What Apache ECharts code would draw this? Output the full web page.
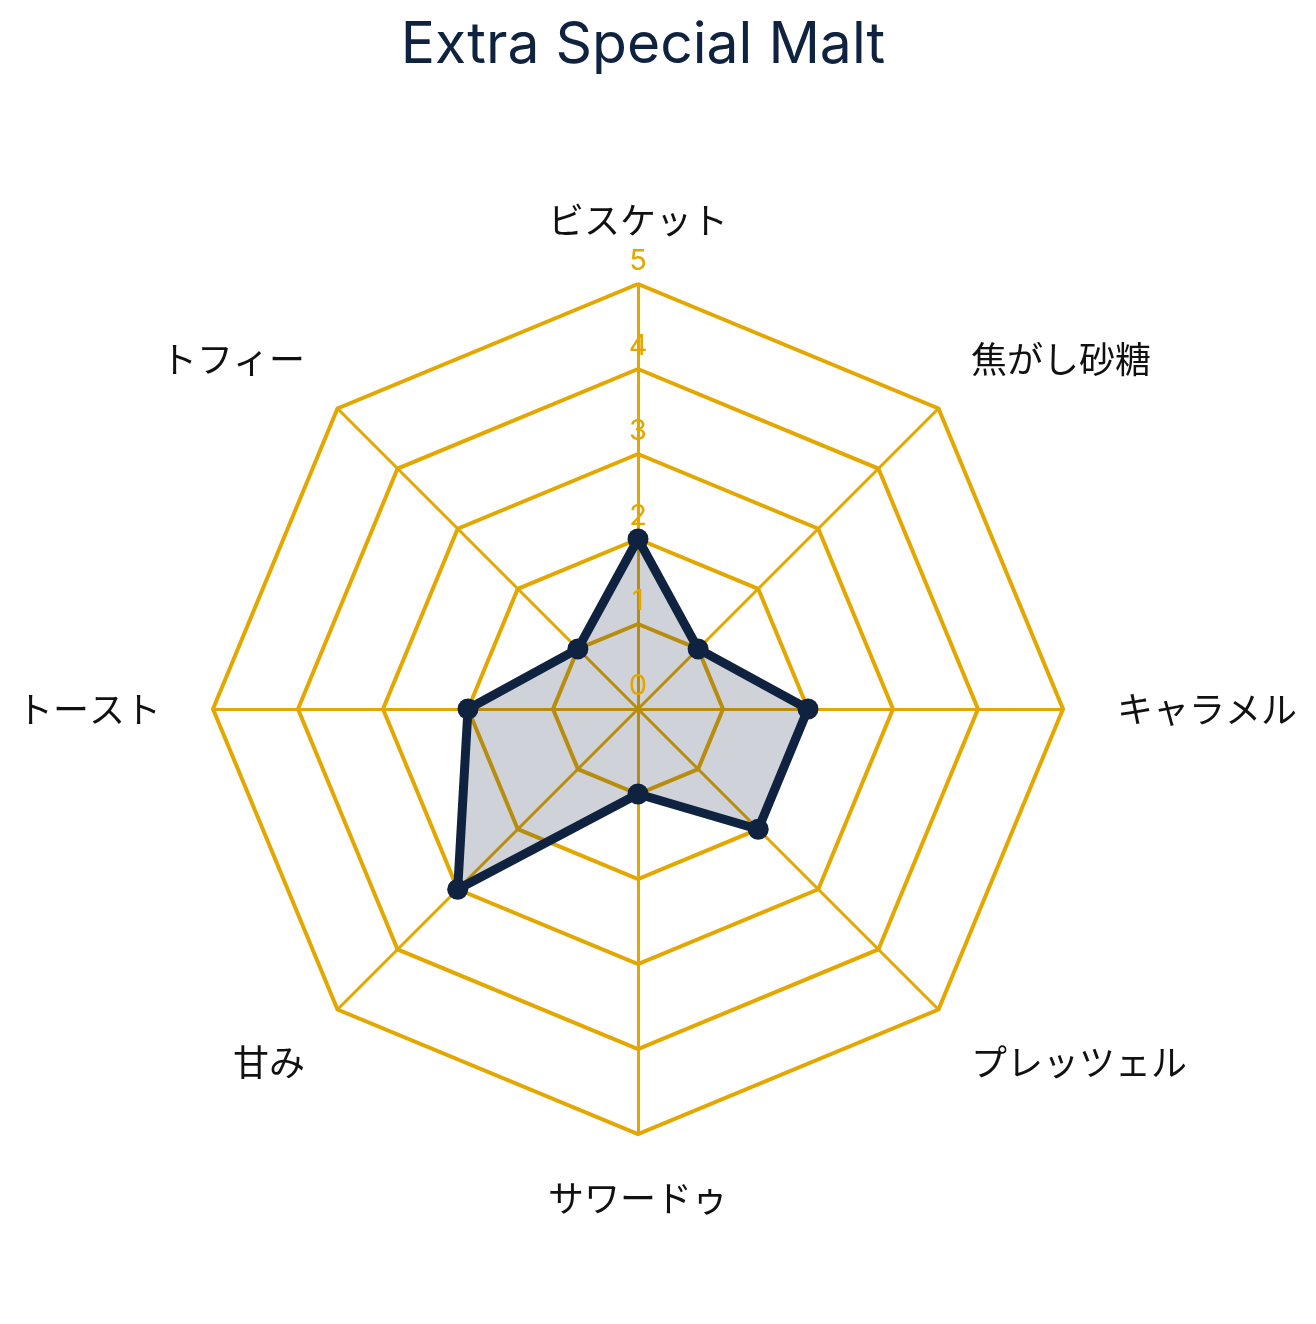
<!DOCTYPE html>
<html>
<head>
<meta charset="utf-8">
<script src="https://cdn.jsdelivr.net/npm/echarts@6/dist/echarts.min.js"></script>
<style>
html,body{margin:0;padding:0;background:#fff;}
#chart{width:1316px;height:1324px;}
</style>
</head>
<body>
<div id="chart"></div>
<script>
// clockwise from top
var categories = ['ビスケット', '焦がし砂糖', 'キャラメル', 'プレッツェル', 'サワードゥ', '甘み', 'トースト', 'トフィー'];
var values = [2, 1, 2, 2, 1, 3, 2, 1];
var tickLabels = ['0', '1', '2', '3', '4', '5'];
var maxValue = 5;
var title = 'Extra Special Malt';

var gold = '#E3A700';
var navy = '#0F2340';
var center = [638, 709];
var radius = 425;

// ECharts radar runs counter-clockwise: reorder so the picture reads clockwise
function toCCW(arr) { return [arr[0]].concat(arr.slice(1).reverse()); }
var ccwCats = toCCW(categories);
var ccwVals = toCCW(values);

var nameFont = '"Noto Sans CJK JP", sans-serif';
var nameSize = 36;

function richStyle(pad) {
  return { fontSize: nameSize, color: '#111111', fontFamily: nameFont, padding: pad };
}

var chart = echarts.init(document.getElementById('chart'));
chart.setOption({
  backgroundColor: '#ffffff',
  title: {
    text: title,
    left: 638,
    textAlign: 'center',
    top: 12,
    textStyle: { fontFamily: 'Inter, Roboto, sans-serif', fontSize: 57, fontWeight: 'normal', color: navy }
  },
  radar: {
    center: center,
    radius: radius,
    startAngle: 90,
    splitNumber: 5,
    shape: 'polygon',
    indicator: ccwCats.map(function (c) { return { name: c, max: maxValue, min: 0 }; }),
    axisName: {
      color: '#111111',
      fontSize: nameSize,
      fontFamily: nameFont,
      formatter: function (name) {
        var i = categories.indexOf(name);
        if (i === 1 || i === 7) return '{up|' + name + '}';
        if (i === 3 || i === 5) return '{down|' + name + '}';
        if (i === 2) return '{right|' + name + '}';
        if (i === 6) return '{left|' + name + '}';
        return '{top|' + name + '}';
      },
      rich: {
        up: richStyle([0, 0, 34, 0]),
        down: richStyle([40, 0, 0, 0]),
        right: richStyle([0, 0, 0, 8]),
        left: richStyle([0, 6, 0, 0]),
        top: richStyle([0, 0, 0, 0])
      }
    },
    nameGap: 46,
    splitArea: { show: false },
    splitLine: { lineStyle: { color: gold, width: 4 } },
    axisLine: { lineStyle: { color: gold, width: 3 } },
    axisTick: { show: false },
    axisLabel: { show: false }
  },
  polar: { center: center, radius: radius },
  angleAxis: {
    show: false, startAngle: 90, min: 0, max: 360
  },
  radiusAxis: {
    min: 0, max: maxValue, interval: 1,
    axisLine: { show: false }, axisTick: { show: false }, splitLine: { show: false },
    axisLabel: {
      show: true,
      margin: 0,
      align: 'center',
      verticalAlign: 'bottom',
      padding: [0, 0, 8, 0],
      color: gold,
      fontSize: 29,
      fontFamily: 'Inter, Roboto, sans-serif',
      formatter: function (v) { return tickLabels[Math.round(v)]; }
    },
    z: 10
  },
  series: [{
    type: 'radar',
    symbol: 'circle',
    symbolSize: 21,
    itemStyle: { color: navy },
    lineStyle: { color: navy, width: 9 },
    areaStyle: { color: navy, opacity: 0.2 },
    data: [{ value: ccwVals, name: title }]
  }]
});
</script>
</body>
</html>
